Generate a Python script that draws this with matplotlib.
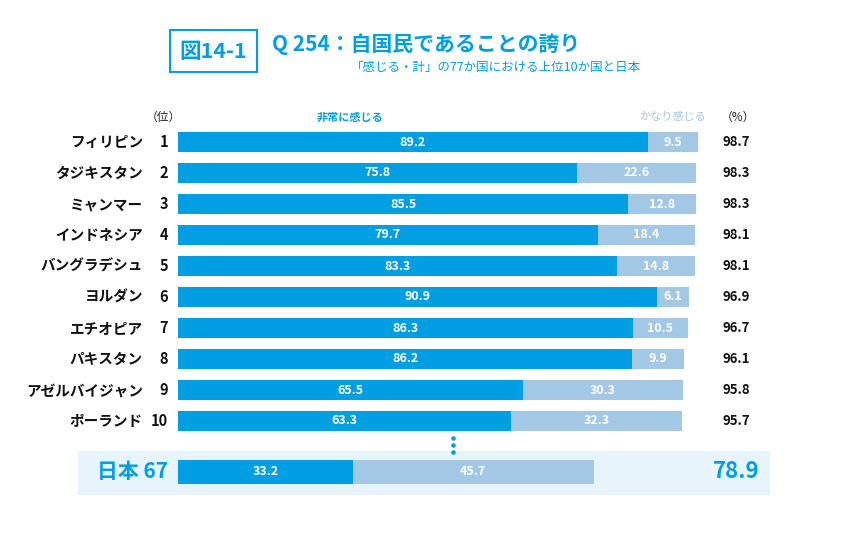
import matplotlib
matplotlib.use("Agg")
import matplotlib.pyplot as plt
from matplotlib.patches import Rectangle

plt.rcParams['font.family'] = ['Noto Sans CJK JP', 'DejaVu Sans']

# data
countries = ["フィリピン", "タジキスタン", "ミャンマー", "インドネシア", "バングラデシュ",
             "ヨルダン", "エチオピア", "パキスタン", "アゼルバイジャン", "ポーランド"]
ranks = [1, 2, 3, 4, 5, 6, 7, 8, 9, 10]
very_strong = [89.2, 75.8, 85.5, 79.7, 83.3, 90.9, 86.3, 86.2, 65.5, 63.3]
fairly = [9.5, 22.6, 12.8, 18.4, 14.8, 6.1, 10.5, 9.9, 30.3, 32.3]
totals = [98.7, 98.3, 98.3, 98.1, 98.1, 96.9, 96.7, 96.1, 95.8, 95.7]
japan_name = "日本"
japan_rank = 67
japan_very = 33.2
japan_fairly = 45.7
japan_total = 78.9

DARK = "#009fe4"
LIGHT = "#a2c8e5"
BAND = "#e8f4fc"

W, H = 850, 549
fig = plt.figure(figsize=(W / 100, H / 100), dpi=100)

def fx(px):
    return px / W

def fy(py):
    return 1 - py / H

# pixel mapping: x0 = 178 px at 0%, 5.268 px per percent; row r at y = 142 + 31 r
x0, xscale = 178, 5.268
y0, ystep = 142, 31
ytop, ybot = -0.6, 11.5
ax = fig.add_axes([fx(x0), fy(y0 + ybot * ystep), 100 * xscale / W,
                   (ybot - ytop) * ystep / H])
ax.set_xlim(0, 100)
ax.set_ylim(ybot, ytop)
ax.axis("off")

jrow = 9 + 51 / 31

# Japan band
ax.add_patch(Rectangle(((78 - x0) / xscale, jrow - 21 / ystep), (770 - 78) / xscale,
                       44 / ystep, facecolor=BAND, edgecolor="none", clip_on=False, zorder=0))

rows = list(range(len(countries)))
bh = 20 / ystep
ax.barh(rows, very_strong, height=bh, color=DARK, zorder=2)
ax.barh(rows, fairly, left=very_strong, height=bh, color=LIGHT, zorder=2)
ax.barh([jrow], [japan_very], height=bh * 1.2, color=DARK, zorder=2)
ax.barh([jrow], [japan_fairly], left=[japan_very], height=bh * 1.2, color=LIGHT, zorder=2)

for r, v, f in zip(rows, very_strong, fairly):
    ax.text(v / 2, r, f"{v:.1f}", color="white", ha="center", va="center",
            fontsize=9, fontweight="bold", zorder=3)
    ax.text(v + f / 2, r, f"{f:.1f}", color="white", ha="center", va="center",
            fontsize=9, fontweight="bold", zorder=3)
ax.text(japan_very / 2, jrow, f"{japan_very:.1f}", color="white", ha="center",
        va="center", fontsize=9, fontweight="bold", zorder=3)
ax.text(japan_very + japan_fairly / 2, jrow, f"{japan_fairly:.1f}", color="white",
        ha="center", va="center", fontsize=9, fontweight="bold", zorder=3)

def xp(px):
    return (px - x0) / xscale

for r, name, rk, t in zip(rows, countries, ranks, totals):
    ax.text(xp(143), r, name, ha="right", va="center", fontsize=10.5,
            fontweight="bold", color="#111111", clip_on=False)
    ax.text(xp(168), r, str(rk), ha="right", va="center", fontsize=10.5,
            fontweight="bold", color="#111111", clip_on=False)
    ax.text(xp(736), r, f"{t:.1f}", ha="center", va="center", fontsize=9.5,
            fontweight="bold", color="#111111", clip_on=False)

ax.text(xp(168), jrow, f"{japan_name} {japan_rank}", ha="right", va="center",
        fontsize=15, fontweight="bold", color=DARK, clip_on=False)
ax.text(xp(736), jrow, f"{japan_total:.1f}", ha="center", va="center",
        fontsize=16, fontweight="bold", color=DARK, clip_on=False)

# vertical dots
for dy in (-7, 0, 7):
    ax.plot([xp(453)], [9 + (24 + dy) / ystep], marker="o", markersize=2.3,
            color=DARK, clip_on=False)

# column headers
hy = -0.8
ax.text(xp(163), hy, "（位）", ha="center", va="center", fontsize=8.5,
        color="#222222", clip_on=False)
ax.text(xp(350), hy, "非常に感じる", ha="center", va="center", fontsize=8,
        fontweight="bold", color=DARK, clip_on=False)
ax.text(xp(673), hy, "かなり感じる", ha="center", va="center", fontsize=8,
        color=LIGHT, clip_on=False)
ax.text(xp(738), hy, "（%）", ha="center", va="center", fontsize=8.5,
        color="#222222", clip_on=False)

# title block
fig.patches.append(Rectangle((fx(170), fy(72)), fx(257) - fx(170), fy(30) - fy(72),
                             transform=fig.transFigure, facecolor="white",
                             edgecolor=DARK, linewidth=1.5))
fig.text(fx(213.5), fy(51), "図14-1", ha="center", va="center", fontsize=15.5,
         fontweight="bold", color=DARK)
fig.text(fx(272), fy(44), "Q 254：自国民であることの誇り", ha="left", va="center",
         fontsize=15, fontweight="bold", color=DARK)
fig.text(fx(641), fy(68), "「感じる・計」の77か国における上位10か国と日本", ha="right",
         va="center", fontsize=9, color=DARK)

fig.savefig("out.png", dpi=100, facecolor="white")
